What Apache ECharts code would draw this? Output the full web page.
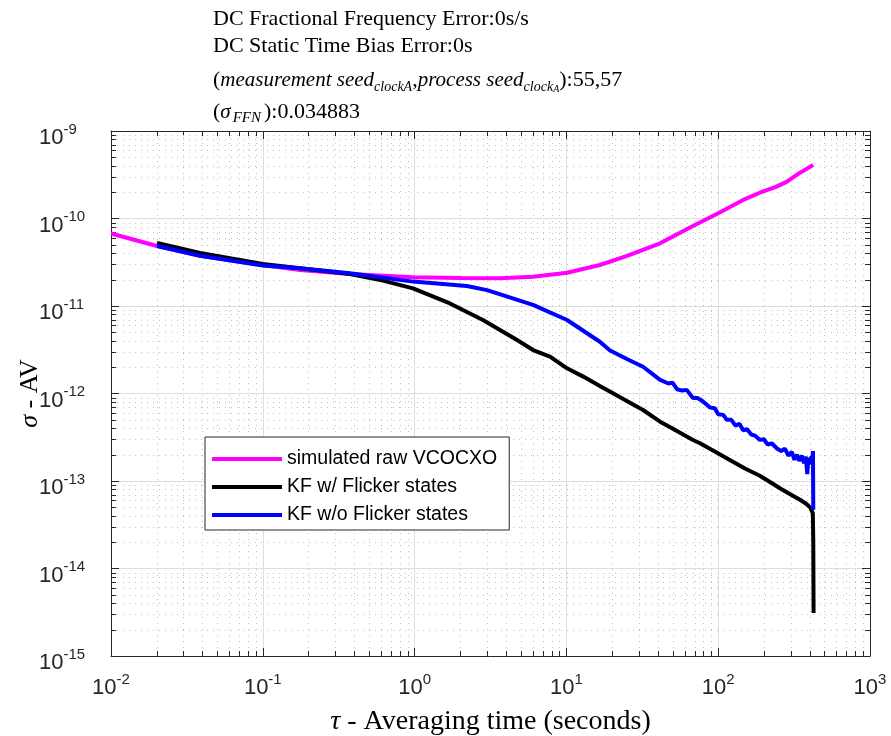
<!DOCTYPE html>
<html>
<head>
<meta charset="utf-8">
<script src="https://cdn.jsdelivr.net/npm/echarts@6/dist/echarts.min.js"></script>
<style>html,body{margin:0;padding:0;background:#fff}#chart{width:891px;height:736px}</style>
</head>
<body>
<div id="chart"></div>
<script>
// ---- data ----
const seriesNames = ['simulated raw VCOCXO', 'KF w/ Flicker states', 'KF w/o Flicker states'];
const seriesColors = ['#ff00ff', '#000000', '#0000ff'];

const rawTau = [0.01, 0.0201, 0.0386, 0.1, 0.176, 0.375, 0.976, 2.0, 3.65, 6.03, 10.1, 16.6, 25.1, 41.4, 68.2, 100, 146, 188, 240, 284, 346, 422];
const rawSigma = [6.74e-11, 4.85e-11, 3.75e-11, 2.94e-11, 2.58e-11, 2.32e-11, 2.13e-11, 2.09e-11, 2.08e-11, 2.16e-11, 2.40e-11, 2.94e-11, 3.73e-11, 5.21e-11, 8.21e-11, 1.15e-10, 1.63e-10, 1.97e-10, 2.3e-10, 2.64e-10, 3.34e-10, 4.08e-10];

const kfTau = [0.0201, 0.0386, 0.1, 0.176, 0.375, 0.619, 0.976, 1.71, 2.82, 4.73, 6.03, 7.80, 10.1, 13, 16.6, 20, 25, 32.0, 41.4, 50, 68.2, 75.9, 95, 125, 150, 188, 210, 260, 300, 346, 380, 403, 420, 423, 425];
const kfSigma = [5.25e-11, 4.04e-11, 3.02e-11, 2.70e-11, 2.32e-11, 1.95e-11, 1.59e-11, 1.07e-11, 6.92e-12, 4.08e-12, 3.14e-12, 2.64e-12, 1.94e-12, 1.55e-12, 1.22e-12, 1.02e-12, 8.2e-13, 6.48e-13, 4.76e-13, 3.97e-13, 2.94e-13, 2.70e-13, 2.17e-13, 1.66e-13, 1.39e-13, 1.15e-13, 1.02e-13, 8.1e-14, 7.0e-14, 6.1e-14, 5.5e-14, 5.0e-14, 4.3e-14, 2.0e-14, 3.1e-15];

const kfNoFlTau = [0.0201, 0.0386, 0.1, 0.176, 0.375, 0.976, 2.21, 3.00, 6.03, 10.1, 16.6, 19.4, 26, 32.0, 41.4, 47, 50, 53.5, 58, 62, 68.2, 73, 78, 83, 88.3, 95, 100, 108, 114, 122, 130, 138, 146, 155, 165, 175, 188, 200, 212, 225, 244, 260, 275, 290, 305, 318, 330, 342, 355, 368, 378, 386, 393, 402, 410, 416, 421, 423];
const kfNoFlSigma = [4.85e-11, 3.75e-11, 2.9e-11, 2.70e-11, 2.37e-11, 1.90e-11, 1.69e-11, 1.52e-11, 1.03e-11, 6.92e-12, 3.9e-12, 3.1e-12, 2.4e-12, 2.02e-12, 1.43e-12, 1.30e-12, 1.33e-12, 1.12e-12, 1.08e-12, 1.10e-12, 8.9e-13, 8.9e-13, 8.3e-13, 7.6e-13, 6.9e-13, 6.8e-13, 5.8e-13, 5.7e-13, 5.0e-13, 5.0e-13, 4.3e-13, 4.5e-13, 3.8e-13, 3.9e-13, 3.4e-13, 3.3e-13, 2.95e-13, 3.0e-13, 2.6e-13, 2.7e-13, 2.35e-13, 2.2e-13, 2.35e-13, 1.95e-13, 2.15e-13, 1.75e-13, 2.0e-13, 1.7e-13, 1.95e-13, 1.6e-13, 1.9e-13, 1.2e-13, 1.85e-13, 1.55e-13, 1.9e-13, 1.65e-13, 2.2e-13, 4.7e-14];

// axis tick decades (exponents)
const xDecades = [-2, -1, 0, 1, 2, 3];
const yDecades = [-15, -14, -13, -12, -11, -10, -9];
const minorMultipliers = [2, 3, 4, 5, 6, 7, 8, 9];

const titleLines = [
  'DC Fractional Frequency Error:0s/s',
  'DC Static Time Bias Error:0s',
  '{n|(}{i|measurement seed}{s|clockA}{n|,}{i|process seed}{s|clock}{ss|A}{n|):55,57}',
  '{n|(}{i|σ}{f|FFN}{n|):0.034883}'
];

// ---- build ----
const zip = (a, b) => a.map((v, i) => [v, b[i]]);
const xMinor = [], yMinor = [];
xDecades.slice(0, -1).forEach(e => minorMultipliers.forEach(m => xMinor.push([m * Math.pow(10, e), 1e-12])));
yDecades.slice(0, -1).forEach(e => minorMultipliers.forEach(m => yMinor.push([1, m * Math.pow(10, e)])));

const AX = '#262626';
const SERIF = 'Liberation Serif';
const SANS = 'Liberation Sans';

function expLabel(v) {
  const e = Math.round(Math.log10(v));
  return '{b|10}{s|' + e + '}';
}
const labelRich = {
  b: { fontFamily: SANS, fontSize: 22, padding: [14, 0, 0, 0], verticalAlign: 'bottom', color: AX },
  s: { fontFamily: SANS, fontSize: 15, padding: [9, 0, 0, 0], verticalAlign: 'top', color: AX }
};
const titleRich = {
  n: { fontFamily: SERIF, fontSize: 22, lineHeight: 28, verticalAlign: 'middle', color: '#000' },
  i: { fontFamily: SERIF, fontSize: 21, fontStyle: 'italic', lineHeight: 28, verticalAlign: 'middle', color: '#000' },
  s: { fontFamily: SERIF, fontSize: 14, fontStyle: 'italic', lineHeight: 14, verticalAlign: 'bottom', color: '#000' },
  f: { fontFamily: SERIF, fontSize: 15, fontStyle: 'italic', lineHeight: 14, verticalAlign: 'bottom', padding: [0, 3, 0, 2], color: '#000' },
  ss: { fontFamily: SERIF, fontSize: 10, fontStyle: 'italic', lineHeight: 8, verticalAlign: 'bottom', color: '#000' }
};
const titleTops = [8, 35, 66, 98];

function minorX(params, api) {
  const cs = params.coordSys;
  const x = Math.round(api.coord([api.value(0), 1e-12])[0]) + 0.5;
  const top = cs.y, bot = cs.y + cs.height;
  return { type: 'group', children: [
    { type: 'line', shape: { x1: x, y1: top, x2: x, y2: bot }, style: { stroke: '#c2c2c2', lineWidth: 1, lineDash: [1, 5] } },
    { type: 'line', shape: { x1: x, y1: bot, x2: x, y2: bot - 5 }, style: { stroke: AX, lineWidth: 1 } },
    { type: 'line', shape: { x1: x, y1: top, x2: x, y2: top + 5 }, style: { stroke: AX, lineWidth: 1 } }
  ]};
}
function minorY(params, api) {
  const cs = params.coordSys;
  const y = Math.round(api.coord([1, api.value(1)])[1]) + 0.5;
  const l = cs.x, r = cs.x + cs.width;
  return { type: 'group', children: [
    { type: 'line', shape: { x1: l, y1: y, x2: r, y2: y }, style: { stroke: '#c2c2c2', lineWidth: 1, lineDash: [1, 5] } },
    { type: 'line', shape: { x1: l, y1: y, x2: l + 5, y2: y }, style: { stroke: AX, lineWidth: 1 } },
    { type: 'line', shape: { x1: r, y1: y, x2: r - 5, y2: y }, style: { stroke: AX, lineWidth: 1 } }
  ]};
}

const axisCommon = {
  type: 'log', logBase: 10,
  axisLine: { show: true, lineStyle: { color: AX, width: 1 } },
  axisTick: { show: true, inside: true, length: 8, lineStyle: { color: AX, width: 1 } },
  minorTick: { show: false }
};

const chart = echarts.init(document.getElementById('chart'), null, { renderer: 'canvas' });
chart.setOption({
  animation: false,
  backgroundColor: '#fff',
  title: titleLines.map((t, i) => ({
    text: t, left: 213, top: titleTops[i], padding: 0,
    textStyle: { fontFamily: SERIF, fontSize: 22, fontWeight: 'normal', color: '#000', rich: titleRich }
  })),
  grid: { left: 111, right: 21, top: 131, bottom: 80, containLabel: false, outerBoundsMode: 'none' },
  legend: {
    data: seriesNames, orient: 'vertical', left: 205, top: 437,
    icon: 'rect', itemWidth: 70, itemHeight: 4, itemGap: 8,
    padding: [12, 12, 5, 7],
    backgroundColor: '#fff', borderColor: AX, borderWidth: 1, borderRadius: 0,
    textStyle: { fontFamily: SANS, fontSize: 19.5, color: '#000' },
    selectedMode: false
  },
  xAxis: [
    Object.assign({}, axisCommon, {
      position: 'bottom', min: 0.01, max: 1000, splitNumber: 5,
      splitLine: { show: true, lineStyle: { color: '#dedede', width: 1 } },
      axisLabel: { show: true, margin: 7, formatter: expLabel, rich: labelRich },
      name: '{i|τ} - Averaging time (seconds)', nameLocation: 'middle', nameGap: 52, nameMoveOverlap: false,
      nameTextStyle: { fontFamily: SERIF, fontSize: 28, color: '#000',
        rich: { i: { fontFamily: SERIF, fontSize: 28, fontStyle: 'italic', color: '#000' } } }
    }),
    Object.assign({}, axisCommon, {
      position: 'top', min: 0.01, max: 1000, splitNumber: 5,
      splitLine: { show: false }, axisLabel: { show: false }
    })
  ],
  yAxis: [
    Object.assign({}, axisCommon, {
      position: 'left', min: 1e-15, max: 1e-9, splitNumber: 6,
      splitLine: { show: true, lineStyle: { color: '#dedede', width: 1 } },
      axisLabel: { show: true, margin: 72, align: 'left', formatter: expLabel, rich: labelRich },
      name: '{i|σ} - AV', nameLocation: 'middle', nameGap: 68, nameMoveOverlap: false,
      nameTextStyle: { fontFamily: SERIF, fontSize: 26, color: '#000',
        rich: { i: { fontFamily: SERIF, fontSize: 26, fontStyle: 'italic', color: '#000' } } }
    }),
    Object.assign({}, axisCommon, {
      position: 'right', min: 1e-15, max: 1e-9, splitNumber: 6,
      splitLine: { show: false }, axisLabel: { show: false }
    })
  ],
  series: [
    { type: 'custom', name: 'xminor', xAxisIndex: 0, yAxisIndex: 0, data: xMinor, renderItem: minorX, silent: true, z: 1, clip: false },
    { type: 'custom', name: 'yminor', xAxisIndex: 0, yAxisIndex: 0, data: yMinor, renderItem: minorY, silent: true, z: 1, clip: false },
    { type: 'line', name: seriesNames[0], color: seriesColors[0], data: zip(rawTau, rawSigma), showSymbol: false, symbol: 'none',
      lineStyle: { width: 4, color: seriesColors[0] }, z: 3, emphasis: { disabled: true } },
    { type: 'line', name: seriesNames[1], color: seriesColors[1], data: zip(kfTau, kfSigma), showSymbol: false, symbol: 'none',
      lineStyle: { width: 4, color: seriesColors[1] }, z: 4, emphasis: { disabled: true } },
    { type: 'line', name: seriesNames[2], color: seriesColors[2], data: zip(kfNoFlTau, kfNoFlSigma), showSymbol: false, symbol: 'none',
      lineStyle: { width: 4, color: seriesColors[2] }, z: 5, emphasis: { disabled: true } }
  ]
});
</script>
</body>
</html>
